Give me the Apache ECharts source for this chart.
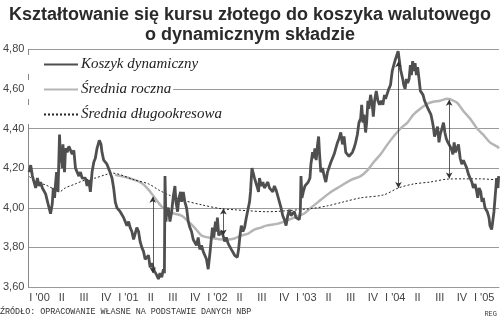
<!DOCTYPE html>
<html><head><meta charset="utf-8">
<script src="https://cdn.jsdelivr.net/npm/echarts/dist/echarts.min.js"></script>
<style>html,body{margin:0;padding:0;background:#fff}#c{width:500px;height:320px}</style>
</head><body><div id="c"></div>
<script>
// x values: months since start of 2000
const quarterLabels = ["I '00","II","III","IV","I '01","II","III","IV","I '02","II","III","IV","I '03","II","III","IV","I '04","II","III","IV","I '05"];
const yTicks = [3.6, 3.8, 4.0, 4.2, 4.4, 4.6, 4.8];

const koszT = [0.09,0.31,0.54,0.77,0.98,1.21,1.44,1.65,1.88,2.11,2.32,2.55,2.78,2.99,3.22,3.36,3.53,3.66,3.80,3.99,4.20,4.34,4.47,4.56,4.66,4.79,4.87,5.01,5.23,5.46,5.68,5.91,6.13,6.35,6.58,6.81,7.02,7.25,7.48,7.69,7.92,8.15,8.36,8.59,8.82,9.03,9.26,9.57,9.80,9.93,10.16,10.38,10.60,10.91,11.28,11.50,11.72,11.95,12.17,12.39,12.62,12.85,13.06,13.29,13.52,13.73,13.96,14.19,14.40,14.63,14.86,15.07,15.30,15.53,15.75,15.97,16.20,16.42,16.64,17.01,17.32,17.54,17.76,17.99,18.22,18.35,18.43,18.56,18.66,18.89,19.10,19.33,19.56,19.77,19.91,20.13,20.31,20.54,20.67,20.90,21.11,21.34,21.57,21.79,22.01,22.24,22.46,22.68,22.91,23.13,23.36,23.58,23.80,24.03,24.26,24.39,24.52,24.70,24.83,25.01,25.24,25.37,25.50,25.68,25.91,26.04,26.27,26.48,26.71,26.94,27.15,27.38,27.61,27.83,28.05,28.19,28.36,28.55,28.73,28.95,29.17,29.40,29.63,29.84,29.97,30.16,30.34,30.51,30.65,30.83,31.05,31.18,31.41,31.64,31.85,32.08,32.31,32.52,32.75,32.98,33.19,33.42,33.65,33.87,34.09,34.32,34.54,34.77,34.99,35.21,35.44,35.66,35.88,36.11,36.34,36.55,36.69,36.78,36.91,37.09,37.32,37.54,37.76,37.99,38.12,38.35,38.48,38.66,38.83,39.02,39.16,39.29,39.46,39.69,39.91,40.13,40.36,40.58,40.81,41.03,41.25,41.48,41.71,41.92,42.15,42.38,42.59,42.82,43.05,43.26,43.49,43.72,43.93,44.16,44.39,44.60,44.83,44.97,45.14,45.28,45.50,45.64,45.81,45.95,46.17,46.40,46.54,46.71,46.94,47.16,47.38,47.61,47.83,48.05,48.19,48.42,48.63,48.86,49.09,49.30,49.53,49.76,49.89,50.07,50.20,50.34,50.51,50.65,50.83,51.01,51.18,51.37,51.54,51.68,51.85,51.99,52.18,52.35,52.52,52.71,52.89,53.06,53.25,53.46,53.69,53.92,54.13,54.32,54.54,54.67,54.80,54.99,55.21,55.40,55.57,55.80,56.01,56.20,56.38,56.60,56.82,57.05,57.28,57.45,57.63,57.81,58.03,58.26,58.48,58.70,58.93,59.15,59.37,59.60,59.83,60.04,60.27,60.50,60.63,60.81,61.04,61.21,61.38,61.61,61.75,61.92,62.15,62.28,62.51,62.64,62.82,62.99,63.18,63.36,63.45];
const koszV = [4.18,4.215,4.16,4.15,4.10,4.15,4.11,4.13,4.10,4.11,4.07,4.06,4.00,3.97,4.02,4.10,4.05,4.12,4.18,4.08,4.37,4.23,4.26,4.20,4.32,4.24,4.18,4.30,4.28,4.31,4.30,4.27,4.29,4.20,4.18,4.16,4.18,4.15,4.16,4.15,4.11,4.14,4.08,4.18,4.23,4.25,4.30,4.34,4.32,4.28,4.24,4.25,4.22,4.19,4.15,4.10,4.03,4.00,4.01,3.98,3.97,3.95,3.96,3.91,3.93,3.90,3.88,3.84,3.85,3.90,3.88,3.83,3.80,3.78,3.74,3.74,3.76,3.70,3.72,3.68,3.66,3.64,3.67,3.65,3.69,3.67,4.16,3.93,3.98,4.00,3.93,3.98,4.06,4.11,4.03,3.98,4.05,4.08,4.03,4.08,4.03,4.00,3.93,3.90,3.88,3.84,3.83,3.81,3.85,3.79,3.81,3.78,3.79,3.74,3.69,3.70,3.78,3.85,3.90,3.85,3.93,3.88,3.95,3.86,3.85,3.88,3.86,3.83,3.85,3.82,3.81,3.79,3.78,3.76,3.77,3.75,3.79,3.86,3.91,3.88,3.90,3.95,3.96,4.03,4.08,4.20,4.20,4.15,4.16,4.11,4.08,4.15,4.11,4.13,4.10,4.10,4.13,4.10,4.11,4.08,4.11,4.09,4.10,4.03,4.00,3.96,3.94,3.91,3.96,3.99,3.96,3.95,3.98,3.95,3.96,3.94,3.98,4.16,4.05,4.08,4.11,4.10,4.13,4.15,4.22,4.28,4.25,4.30,4.24,4.32,4.36,4.27,4.18,4.20,4.16,4.13,4.18,4.17,4.23,4.22,4.27,4.30,4.33,4.35,4.38,4.32,4.36,4.28,4.27,4.26,4.27,4.28,4.30,4.33,4.37,4.43,4.45,4.52,4.43,4.47,4.38,4.43,4.54,4.50,4.57,4.52,4.46,4.54,4.59,4.54,4.52,4.54,4.52,4.57,4.55,4.56,4.60,4.62,4.69,4.72,4.75,4.755,4.79,4.74,4.70,4.71,4.65,4.62,4.60,4.65,4.63,4.65,4.72,4.67,4.74,4.69,4.73,4.67,4.71,4.65,4.59,4.60,4.57,4.54,4.52,4.50,4.49,4.47,4.43,4.40,4.36,4.38,4.41,4.33,4.37,4.40,4.43,4.38,4.35,4.33,4.32,4.30,4.27,4.33,4.28,4.27,4.32,4.25,4.22,4.24,4.22,4.20,4.17,4.18,4.13,4.10,4.12,4.08,4.05,4.10,4.08,4.03,4.05,4.00,4.01,3.98,3.95,3.91,3.89,3.90,3.98,4.06,4.15,4.10,4.16];

const rocznaT = [11.68,13.56,15.30,16.24,17.05,17.99,18.93,19.73,20.67,21.61,22.42,23.36,24.29,25.10,26.04,26.98,27.79,28.73,29.67,30.48,31.41,32.08,33.69,35.84,37.18,38.12,39.46,40.81,42.15,43.49,44.83,45.77,46.58,47.52,48.46,49.27,50.20,51.14,51.95,52.89,53.83,54.63,55.57,56.51,56.91,57.85,58.66,59.60,60.54,61.34,62.28,63.22,63.49];
const rocznaV = [4.166,4.15,4.124,4.09,4.05,4.006,3.98,3.97,3.96,3.93,3.90,3.86,3.85,3.845,3.84,3.84,3.845,3.86,3.87,3.89,3.90,3.91,3.92,3.95,3.97,4.00,4.04,4.08,4.11,4.14,4.16,4.19,4.23,4.27,4.32,4.36,4.40,4.43,4.47,4.50,4.525,4.535,4.54,4.55,4.548,4.53,4.49,4.45,4.40,4.37,4.33,4.31,4.30];

const dlugoT = [0.13,0.94,2.28,3.62,4.16,4.97,6.31,7.65,8.99,10.34,11.28,14.36,16.24,17.58,18.93,20.67,23.36,26.04,27.79,29.67,32.08,33.69,38.12,40.40,42.55,44.83,47.92,49.93,51.95,54.23,56.65,58.66,60.94,63.49];
const dlugoV = [4.158,4.13,4.116,4.09,4.08,4.10,4.12,4.14,4.15,4.166,4.175,4.14,4.12,4.09,4.065,4.04,4.015,3.995,3.99,3.985,3.98,3.982,3.996,4.01,4.03,4.05,4.065,4.10,4.12,4.13,4.145,4.146,4.146,4.14];

// annotation arrows: [month, from, to]
const arrowT = [16.78, 26.31, 49.93, 56.78];
const arrowFrom = [4.055, 3.996, 4.10, 4.148];
const arrowTo = [3.67, 3.86, 4.74, 4.545];

const zip = (t, v) => t.map((x, i) => [x, v[i]]);

const chart = echarts.init(document.getElementById('c'), null, {renderer: 'canvas'});
const legendBase = {
  orient: 'vertical', left: 26, itemWidth: 34, itemHeight: 12, itemGap: 3,
  backgroundColor: '#fff', padding: [2, 2, 2, 17],
  itemStyle: {opacity: 0},
  textStyle: {fontFamily: 'Liberation Serif', fontStyle: 'italic', fontSize: 15, color: '#222', padding: [0, 0, 0, -2]}
};
chart.setOption({
  animation: false,
  title: {
    text: 'Kształtowanie się kursu złotego do koszyka walutowego\no dynamicznym składzie',
    left: 'center', top: 0,
    textStyle: {fontFamily: 'Liberation Sans', fontWeight: 'bold', fontSize: 18, lineHeight: 20, color: '#2a2a2a'}
  },
  legend: [
    Object.assign({}, legendBase, {top: 55, data: ['Koszyk dynamiczny']}),
    Object.assign({}, legendBase, {top: 80, data: ['Średnia roczna']}),
    Object.assign({}, legendBase, {top: 105, data: ['Średnia długookresowa']})
  ],
  grid: {left: 26, right: 1, top: 49.3, bottom: 33, containLabel: false},
  xAxis: {
    type: 'value', min: 0, max: 63.5, interval: 1.5,
    axisLine: {show: true, lineStyle: {color: '#999'}},
    axisTick: {show: false},
    splitLine: {show: false},
    axisLabel: {
      color: '#444', fontFamily: 'Liberation Sans', fontSize: 11, margin: 5,
      showMinLabel: false, showMaxLabel: false,
      formatter: function (v) {
        const k = v / 1.5, r = Math.round(k);
        if (Math.abs(k - r) > 1e-6 || r % 2 === 0) return '';
        return quarterLabels[(r - 1) / 2] || '';
      }
    }
  },
  yAxis: {
    type: 'value', min: yTicks[0], max: yTicks[yTicks.length - 1], interval: 0.2,
    axisLine: {show: true, lineStyle: {color: '#888'}},
    axisTick: {show: false},
    splitLine: {show: true, lineStyle: {color: '#9a9a9a', width: 1}},
    axisLabel: {color: '#444', fontFamily: 'Liberation Sans', fontSize: 11, margin: 4,
      formatter: v => v.toFixed(2).replace('.', ',')}
  },
  series: [
    {name: 'Średnia roczna', type: 'line', data: zip(rocznaT, rocznaV), symbol: 'none', smooth: 0.3,
      lineStyle: {color: '#b5b5b5', width: 2.5}, itemStyle: {color: '#b5b5b5'}, z: 2},
    {name: 'Średnia długookresowa', type: 'line', data: zip(dlugoT, dlugoV), symbol: 'none', smooth: 0.3,
      lineStyle: {color: '#222', width: 1, type: [2, 2]}, itemStyle: {color: '#222'}, z: 3,
      markLine: {
        silent: true, symbol: ['arrow', 'arrow'], symbolSize: [5, 6],
        label: {show: false},
        lineStyle: {color: '#333', width: 0.8, type: 'solid'},
        data: arrowT.map((t, i) => [{coord: [t, arrowFrom[i]]}, {coord: [t, arrowTo[i]]}])
      }},
    {name: 'Koszyk dynamiczny', type: 'line', data: zip(koszT, koszV), symbol: 'none',
      lineStyle: {color: '#4f4f4f', width: 2.8}, itemStyle: {color: '#4f4f4f'}, z: 4}
  ],
  graphic: [
    {type: 'text', left: 0, top: 308, style: {text: 'ŹRÓDŁO: OPRACOWANIE WŁASNE NA PODSTAWIE DANYCH NBP', fontSize: 8.4, fontFamily: 'Liberation Mono', fill: '#333'}},
    {type: 'text', right: 3, top: 311, style: {text: 'REG', fontSize: 7, fontFamily: 'Liberation Mono', fill: '#444'}}
  ]
});
</script></body></html>
